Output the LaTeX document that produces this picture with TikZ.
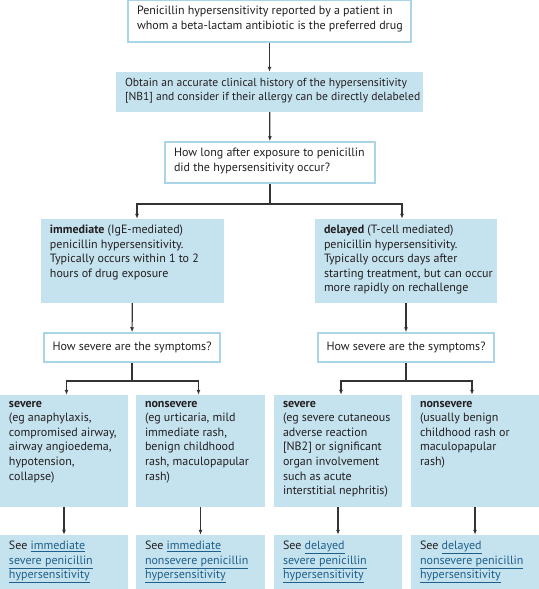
\documentclass[tikz,border=0pt]{standalone}
\usepackage{fontspec}
\setmainfont{PT Sans}
\usetikzlibrary{arrows.meta}
\definecolor{boxfill}{HTML}{C5E3EF}
\definecolor{boxline}{HTML}{A9D5E7}
\definecolor{txt}{HTML}{231F20}
\definecolor{lnk}{HTML}{1F5F8B}
\definecolor{arr}{HTML}{333333}
\newcommand{\bx}[3]{\parbox[c][\dimexpr #2bp-12bp\relax][t]{#1bp}{\leftskip=9bp\rightskip=-30bp plus 1fil\parfillskip=0pt\relax #3}}
\newcommand{\lk}[1]{\textcolor{lnk}{\underline{#1}}}
\tikzset{
  base/.style={rectangle, inner xsep=0bp, inner ysep=6bp, text=txt, font=\fontsize{12bp}{14.6bp}\selectfont, anchor=center},
  qbox/.style={base, draw=boxline, fill=white, line width=1.5bp},
  fbox/.style={base, fill=boxfill},
  conn/.style={draw=arr, line width=1.2bp, -{Latex[length=5bp,width=4bp]}},
  line/.style={draw=arr, line width=1.2bp}
}
\begin{document}
\begin{tikzpicture}[x=1bp,y=-1bp]
\useasboundingbox (0,0) rectangle (539,589);
% top
\node[qbox] (b1) at (269.5,21) {\bx{283}{42}{Penicillin hypersensitivity reported by a patient in\\ whom a beta-lactam antibiotic is the preferred drug}};
\node[fbox, font=\fontsize{11.6bp}{14.6bp}\selectfont] (b2) at (269.5,92) {\bx{307}{40}{Obtain an accurate clinical history of the hypersensitivity\\ {[NB1]} and consider if their allergy can be directly delabeled}};
\node[qbox] (b3) at (270,162.5) {\bx{210}{41}{How long after exposure to penicillin\\ did the hypersensitivity occur?}};
% second level
\node[fbox] (imm) at (132.5,261) {\bx{183}{84}{\textbf{immediate} (IgE-mediated)\\ penicillin hypersensitivity.\\ Typically occurs within 1 to 2\\ hours of drug exposure}};
\node[fbox] (del) at (406,261) {\bx{182}{84}{\textbf{delayed} (T-cell mediated)\\ penicillin hypersensitivity.\\ Typically occurs days after\\ starting treatment, but can occur\\ more rapidly on rechallenge}};
\node[qbox, minimum width=176bp, minimum height=29bp, inner ysep=0bp] (hs1) at (132,347.5) {How severe are the symptoms?};
\node[qbox, minimum width=176bp, minimum height=29bp, inner ysep=0bp] (hs2) at (406,347.5) {How severe are the symptoms?};
% third level
\node[fbox] (s1) at (64,451) {\bx{128}{112}{\textbf{severe}\\ (eg anaphylaxis,\\ compromised airway,\\ airway angioedema,\\ hypotension,\\ collapse)}};
\node[fbox] (n1) at (200.5,451) {\bx{129}{112}{\textbf{nonsevere}\\ (eg urticaria, mild\\ immediate rash,\\ benign childhood\\ rash, maculopapular\\ rash)}};
\node[fbox] (s2) at (338,451) {\bx{128}{112}{\textbf{severe}\\ (eg severe cutaneous\\ adverse reaction\\ {[NB2]} or significant\\ organ involvement\\ such as acute\\ interstitial nephritis)}};
\node[fbox] (n2) at (475,451) {\bx{128}{112}{\textbf{nonsevere}\\ (usually benign\\ childhood rash or\\ maculopapular\\ rash)}};
% bottom
\node[fbox] (bs1) at (64,562) {\bx{128}{54}{See \lk{immediate}\\ \lk{severe penicillin}\\ \lk{hypersensitivity}}};
\node[fbox] (bn1) at (200.5,562) {\bx{129}{54}{See \lk{immediate}\\ \lk{nonsevere penicillin}\\ \lk{hypersensitivity}}};
\node[fbox] (bs2) at (338,562) {\bx{128}{54}{See \lk{delayed}\\ \lk{severe penicillin}\\ \lk{hypersensitivity}}};
\node[fbox] (bn2) at (475,562) {\bx{128}{54}{See \lk{delayed}\\ \lk{nonsevere penicillin}\\ \lk{hypersensitivity}}};
% connectors
\draw[conn] (b1) -- (b2);
\draw[conn] (b2) -- (b3);
\coordinate (j1) at (270,204);
\draw[line] (b3.south) -- (j1);
\draw[conn] (j1) -| ([xshift=4.5bp]imm.north);
\draw[conn] (j1) -| ([xshift=-4bp]del.north);
\draw[conn] (imm) -- (hs1);
\draw[conn] (del) -- (hs2);
\coordinate (j2) at (132,381);
\coordinate (j3) at (406,381);
\draw[line] (hs1.south) -- (j2);
\draw[line] (hs2.south) -- (j3);
\draw[conn] (j2) -| ([xshift=2.5bp]s1.north);
\draw[conn] (j2) -| ([xshift=-2bp]n1.north);
\draw[conn] (j3) -| ([xshift=3bp]s2.north);
\draw[conn] (j3) -| ([xshift=-3bp]n2.north);
\draw[conn] (s1) -- (bs1);
\draw[conn] (n1) -- (bn1);
\draw[conn] (s2) -- (bs2);
\draw[conn] (n2) -- (bn2);
\end{tikzpicture}
\end{document}
